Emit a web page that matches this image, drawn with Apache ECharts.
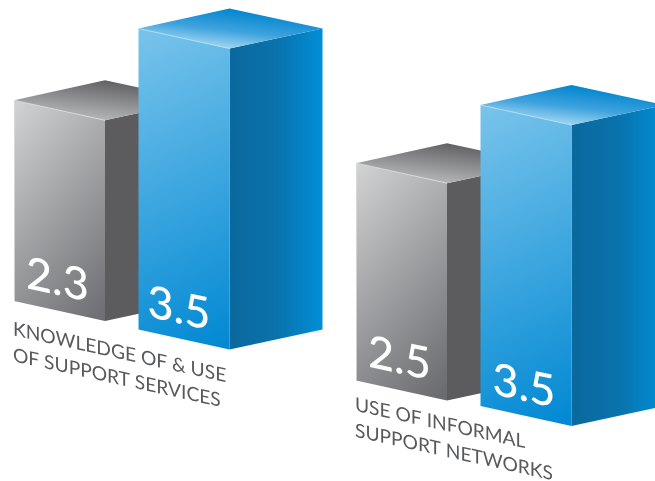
<!DOCTYPE html>
<html>
<head>
<meta charset="utf-8">
<style>html,body{margin:0;padding:0;background:#fff;overflow:hidden}#chart{width:655px;height:481px}</style>
<script src="https://cdn.jsdelivr.net/npm/echarts@6/dist/echarts.min.js"></script>
</head>
<body>
<div id="chart"></div>
<script>
// Scores per measure, drawn as two blocks side by side for each measure
const categories = ['KNOWLEDGE OF & USE\nOF SUPPORT SERVICES', 'USE OF INFORMAL\nSUPPORT NETWORKS'];
const grayValues = [2.3, 2.5];
const blueValues = [3.5, 3.5];

// Block geometry in pixels
const FACE_W = 91, SIDE_W = 93, RISE = 20;
const SHEAR = -Math.atan(0.22);
const FONT = 'Lato, "Open Sans", sans-serif';
const CAPTION_DROP = [15, 11];

const grayStyle = {
  offset: -124.5,
  floorY: [301, 380.5],
  valueAt: [[12, -5], [12, -6]],
  front: { type: 'linear', x: 0, y: 0, x2: 1.78, y2: 0.62, colorStops: [
    { offset: 0, color: '#d2d3d5' }, { offset: 1, color: '#6b6c6f' }] },
  side: '#5c5c5e',
  top: { type: 'linear', x: 0.5, y: 1, x2: 0.525, y2: 0.01, colorStops: [
    { offset: 0, color: '#b4b5b7' }, { offset: 1, color: '#616164' }] },
  edge: '#dcdcdd',
  edgeOnLeft: true
};
const blueStyle = {
  offset: 0,
  floorY: [329.5, 406],
  valueAt: [[9, -5], [12, -4]],
  front: { type: 'linear', x: 0, y: 0, x2: 1.56, y2: 0.925, colorStops: [
    { offset: 0, color: '#79c4eb' }, { offset: 1, color: '#0088d3' }] },
  side: { type: 'linear', x: 0, y: 0, x2: 1, y2: 0, colorStops: [
    { offset: 0, color: '#0a699e' }, { offset: 0.5, color: '#0a72ac' }, { offset: 1, color: '#008fd7' }] },
  top: { type: 'linear', x: 0.5, y: 1, x2: 0.525, y2: 0.01, colorStops: [
    { offset: 0, color: '#9fd5f1' }, { offset: 0.45, color: '#3ea2dd' }, { offset: 1, color: '#0086d0' }] },
  edge: '#b5def4',
  edgeOnLeft: false
};

// Builds one block: front face, side face, lid, value and optional caption
function blockRenderer(look, withCaption) {
  return function (params, api) {
    const idx = api.value(0);
    const value = api.value(1);
    const anchor = api.coord([idx, value]);
    const floor = api.coord([idx, yFloor]);
    const h = floor[1] - anchor[1];
    const L = anchor[0] + look.offset;
    const B = look.floorY[idx];
    const T = B - h;
    const R = L + FACE_W;
    const edgePoints = look.edgeOnLeft ? [[L + 0.5, B], [L + 0.5, T], [R, T + RISE]] : [[L, T], [R, T + RISE]];
    const children = [
      { type: 'polygon', shape: { points: [[R, T + RISE], [R + SIDE_W, T], [R + SIDE_W, B], [R, B + RISE]] },
        style: { fill: look.side } },
      { type: 'polygon', shape: { points: [[L, T], [R, T + RISE], [R, B + RISE], [L, B]] },
        style: { fill: look.front } },
      { type: 'polygon', shape: { points: [[L, T], [R, T - RISE], [R + SIDE_W, T], [R, T + RISE]] },
        style: { fill: look.top } },
      { type: 'polyline', shape: { points: edgePoints },
        style: { fill: null, stroke: look.edge, lineWidth: 1, opacity: 0.8 } },
      { type: 'text', x: L + look.valueAt[idx][0], y: B + look.valueAt[idx][1], skewY: SHEAR,
        style: { text: value.toFixed(1), fill: '#ffffff', font: '500 45px ' + FONT,
                 align: 'left', verticalAlign: 'bottom' } }
    ];
    if (withCaption) {
      children.push({ type: 'text', x: L - 1, y: B + CAPTION_DROP[idx], skewY: SHEAR,
        style: { text: categories[idx], fill: '#58595b', font: '400 19.2px ' + FONT,
                 lineHeight: 26, align: 'left', verticalAlign: 'top' } });
    }
    return { type: 'group', children: children };
  };
}

const yFloor = -0.1;
const chart = echarts.init(document.getElementById('chart'), null, { renderer: 'canvas' });
chart.setOption({
  animation: false,
  grid: { left: -32.5, top: 0, width: 684, height: 481, outerBoundsMode: 'none' },
  xAxis: { type: 'category', data: categories, show: false },
  yAxis: { type: 'value', min: yFloor, max: 5.654, show: false },
  series: [
    { type: 'custom', clip: false, z: 2, encode: { x: 0, y: 1 },
      data: grayValues.map((v, i) => [i, v]), renderItem: blockRenderer(grayStyle, true) },
    { type: 'custom', clip: false, z: 3, encode: { x: 0, y: 1 },
      data: blueValues.map((v, i) => [i, v]), renderItem: blockRenderer(blueStyle, false) }
  ]
});
</script>
</body>
</html>
